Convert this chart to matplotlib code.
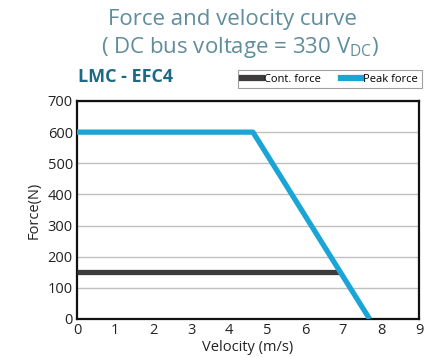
import matplotlib
matplotlib.use("Agg")
import matplotlib.pyplot as plt
from matplotlib.lines import Line2D

# data
peak_v = [0, 4.63, 7.7]
peak_f = [600, 600, 0]
cont_v = [0, 6.9]
cont_f = [150, 150]
x_ticks = [0, 1, 2, 3, 4, 5, 6, 7, 8, 9]
y_ticks = [0, 100, 200, 300, 400, 500, 600, 700]

plt.rcParams['font.family'] = ['Open Sans', 'DejaVu Sans']

fig = plt.figure(figsize=(4.38, 3.57), dpi=100)
W, H = 438, 357
ax = fig.add_axes([77 / W, 1 - 319 / H, (419 - 77) / W, (319 - 101) / H])

ax.plot(cont_v, cont_f, color='#3d3b3b', lw=3.8, solid_capstyle='butt', zorder=3)
ax.plot(peak_v, peak_f, color='#1aa5d6', lw=3.8, solid_capstyle='butt', zorder=4)

ax.set_xlim(0, 9)
ax.set_ylim(0, 700)
ax.set_xticks(x_ticks)
ax.set_yticks(y_ticks)
ax.tick_params(length=0, labelsize=10.5, colors='#222222', pad=3)
ax.yaxis.grid(True, color='#c0c0c0', lw=1)
ax.set_axisbelow(True)
for s in ax.spines.values():
    s.set_linewidth(1.6)
    s.set_color('#111111')

ax.set_xlabel('Velocity (m/s)', fontsize=10.5, color='#222222', labelpad=1)
ax.set_ylabel('Force(N)', fontsize=10.5, color='#222222', labelpad=4)

fig.text(232 / W, 1 - 20 / H, 'Force and velocity curve', ha='center', va='center',
         fontsize=16, color='#5f8d9b')
fig.text(240 / W, 1 - 47 / H, r'( DC bus voltage = 330 V$_{\mathregular{DC}}$)',
         ha='center', va='center', fontsize=16, color='#5f8d9b')
fig.text(78 / W, 1 - 77 / H, 'LMC - EFC4', ha='left', va='center',
         fontsize=13, fontweight='bold', color='#1b6a86')

handles = [Line2D([0], [0], color='#3d3b3b', lw=4.5),
           Line2D([0], [0], color='#1aa5d6', lw=4.5)]
leg = fig.legend(handles, ['Cont. force', 'Peak force'], loc='center',
                 bbox_to_anchor=(330 / W, 1 - 79 / H), ncol=2, fontsize=8,
                 frameon=True, fancybox=False, handlelength=1.8, handletextpad=0.2,
                 columnspacing=1.8, borderpad=0.35)
leg.get_frame().set_edgecolor('#888888')
leg.get_frame().set_linewidth(0.8)

fig.savefig('out.png', dpi=100)
